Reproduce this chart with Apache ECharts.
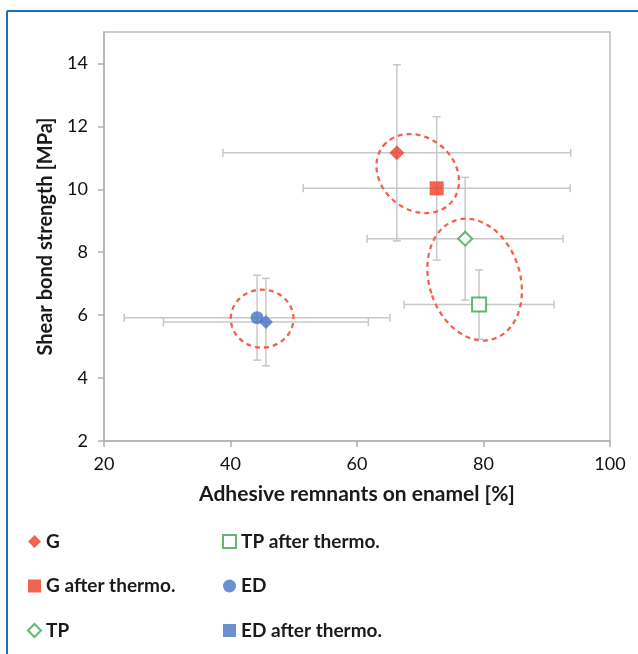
<!DOCTYPE html>
<html><head><meta charset="utf-8">
<script src="https://cdn.jsdelivr.net/npm/echarts@6/dist/echarts.min.js"></script>
<style>html,body{margin:0;padding:0;background:#fff}#c{width:638px;height:654px}</style>
</head><body><div id="c"></div><script>
// ---- data ----
const seriesNames = ['G', 'G after thermo.', 'TP', 'TP after thermo.', 'ED', 'ED after thermo.'];
const xValues = [66.3, 72.6, 77.1, 79.3, 44.2, 45.6];      // adhesive remnants [%]
const yValues = [11.16, 10.03, 8.43, 6.34, 5.92, 5.78];    // shear bond strength [MPa]
const xErrors = [27.5, 21.1, 15.5, 11.85, 21.0, 16.2];
const yErrors = [2.8, 2.28, 1.95, 1.1, 1.35, 1.39];
const xTicks = [20, 40, 60, 80, 100];
const yTicks = [2, 4, 6, 8, 10, 12, 14];
// annotation ellipses (data units): centre x, centre y, radius x, radius y, tilt (deg)
const ellipseCx = [69.6, 78.6, 45.0];
const ellipseCy = [10.5, 7.13, 5.89];
const ellipseRx = [6.99, 7.18, 4.95];
const ellipseRy = [1.15, 1.98, 0.92];
const ellipseTilt = [-38.5, 17.8, 0];

// ---- styles ----
const RED = '#ee3d25', GREEN = '#3ba553', BLUE = '#4673c4';
const FONT = 'Lato';
const markerStyles = [
  {symbol: 'diamond', size: 15, itemStyle: {color: RED}},
  {symbol: 'rect', size: 14, itemStyle: {color: RED}},
  {symbol: 'diamond', size: 14, itemStyle: {color: '#fff', borderColor: GREEN, borderWidth: 2}},
  {symbol: 'rect', size: 14, itemStyle: {color: '#fff', borderColor: GREEN, borderWidth: 2}},
  {symbol: 'circle', size: 13, itemStyle: {color: BLUE}},
  {symbol: 'diamond', size: 14, itemStyle: {color: BLUE}}
];
const legendIcons = ['diamond', 'rect', 'diamond', 'rect', 'circle', 'rect'];

const chart = echarts.init(document.getElementById('c'), null, {renderer: 'canvas'});

const scatterSeries = seriesNames.map((name, i) => ({
  name, type: 'scatter', z: 3,
  symbol: markerStyles[i].symbol, symbolSize: markerStyles[i].size,
  itemStyle: markerStyles[i].itemStyle,
  data: [[xValues[i], yValues[i]]]
}));

const errorSeries = {
  type: 'custom', silent: true, z: 2,
  encode: {x: 0, y: 1},
  data: xValues.map((x, i) => [x, yValues[i], xErrors[i], yErrors[i]]),
  renderItem(params, api) {
    const x = api.value(0), y = api.value(1), ex = api.value(2), ey = api.value(3);
    const l = api.coord([x - ex, y]), r = api.coord([x + ex, y]);
    const t = api.coord([x, y + ey]), b = api.coord([x, y - ey]);
    const cap = 4;
    const st = {stroke: '#c8c8c8', lineWidth: 1.5};
    const ln = (x1, y1, x2, y2) => ({type: 'line', shape: {x1, y1, x2, y2}, style: st});
    return {type: 'group', children: [
      ln(l[0], l[1], r[0], r[1]),
      ln(l[0], l[1] - cap, l[0], l[1] + cap),
      ln(r[0], r[1] - cap, r[0], r[1] + cap),
      ln(t[0], t[1], b[0], b[1]),
      ln(t[0] - cap, t[1], t[0] + cap, t[1]),
      ln(b[0] - cap, b[1], b[0] + cap, b[1])
    ]};
  }
};

const ellipseSeries = {
  type: 'custom', silent: true, z: 5,
  encode: {x: 0, y: 1},
  data: ellipseCx.map((x, i) => [x, ellipseCy[i], ellipseRx[i], ellipseRy[i], ellipseTilt[i]]),
  renderItem(params, api) {
    const c = api.coord([api.value(0), api.value(1)]);
    const s = api.size([api.value(2), api.value(3)]);
    return {
      type: 'ellipse', x: c[0], y: c[1], rotation: api.value(4) * Math.PI / 180,
      shape: {cx: 0, cy: 0, rx: s[0], ry: s[1]},
      style: {fill: null, stroke: '#f2624f', lineWidth: 2.3, lineDash: [5, 4]}
    };
  }
};

const legendText = {fontFamily: FONT, fontWeight: 'bold', fontSize: 19, color: '#1a1a1a'};
const mkLegend = (idx, left) => ({
  orient: 'vertical', left, top: 532, padding: 0, itemGap: 25.5, itemWidth: 13, itemHeight: 13,
  selectedMode: false, textStyle: legendText,
  data: idx.map(i => ({name: seriesNames[i], icon: legendIcons[i]}))
});

chart.setOption({
  animation: false,
  backgroundColor: '#fff',
  grid: {left: 104, right: 28, top: 32, bottom: 213, show: true, borderColor: '#bdbdbd', borderWidth: 1.5},
  xAxis: {
    type: 'value', min: 20, max: 100,
    name: 'Adhesive remnants on enamel [%]', nameLocation: 'middle', nameGap: 43,
    nameTextStyle: {fontFamily: FONT, fontWeight: 'bold', fontSize: 21, color: '#1a1a1a'},
    splitLine: {show: false},
    axisLine: {lineStyle: {color: '#b0b0b0', width: 1.5}},
    axisTick: {length: 6, lineStyle: {color: '#b0b0b0', width: 1.5}, customValues: xTicks},
    axisLabel: {customValues: xTicks, margin: 14, fontFamily: FONT, fontSize: 18, color: '#111'}
  },
  yAxis: {
    type: 'value', min: 2, max: 15,
    name: 'Shear bond strength [MPa]', nameLocation: 'middle', nameGap: 48,
    nameTextStyle: {fontFamily: FONT, fontWeight: 'bold', fontSize: 20, color: '#1a1a1a'},
    splitLine: {show: false},
    axisLine: {show: true, lineStyle: {color: '#b0b0b0', width: 1.5}},
    axisTick: {show: true, length: 6, lineStyle: {color: '#b0b0b0', width: 1.5}, customValues: yTicks},
    axisLabel: {customValues: yTicks, margin: 16, fontFamily: FONT, fontSize: 18, color: '#111'}
  },
  legend: [mkLegend([0, 1, 2], 27), mkLegend([3, 4, 5], 222)],
  graphic: [
    {type: 'line', shape: {x1: 7, y1: 11, x2: 638, y2: 11}, style: {stroke: '#1b6dc9', lineWidth: 2}},
    {type: 'line', shape: {x1: 7, y1: 11, x2: 7, y2: 654}, style: {stroke: '#1b6dc9', lineWidth: 2}}
  ],
  series: [errorSeries, ...scatterSeries, ellipseSeries]
});
</script></body></html>
